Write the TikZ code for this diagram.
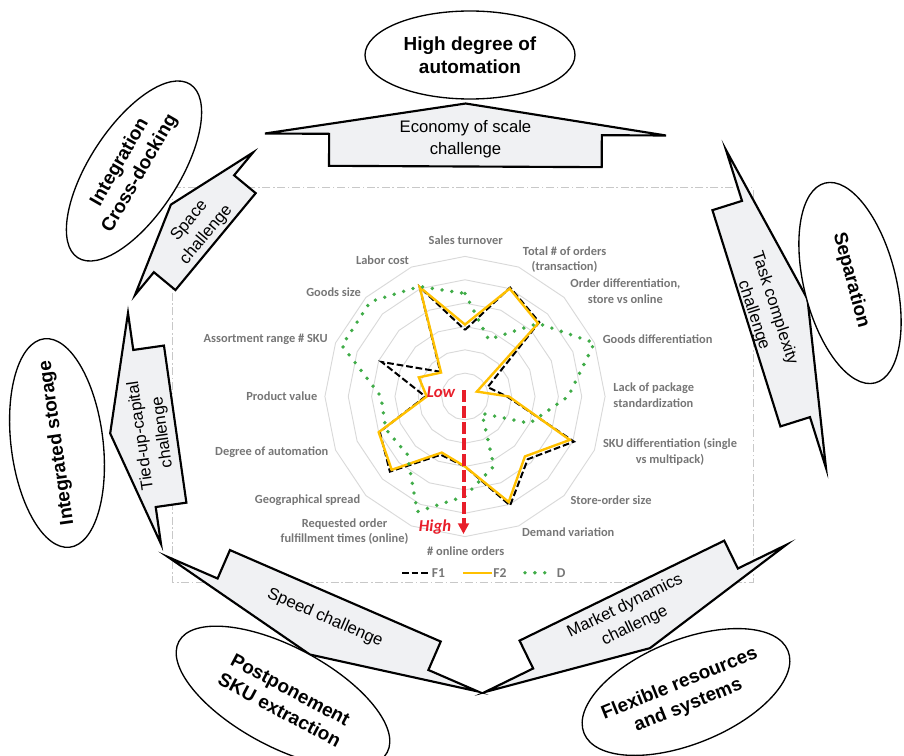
\documentclass[tikz,border=0pt]{standalone}
\usepackage{fontspec}
\setmainfont{Liberation Sans}
\newfontfamily\chartfont{Carlito}
\usetikzlibrary{calc,shapes.geometric,arrows.meta}

\definecolor{labelgray}{RGB}{118,118,118}
\definecolor{ringgray}{RGB}{217,217,217}
\definecolor{framegray}{RGB}{200,200,200}
\definecolor{seriesgold}{RGB}{255,192,0}
\definecolor{seriesgreen}{RGB}{64,172,72}
\definecolor{scalered}{RGB}{232,30,42}
\definecolor{challengefill}{RGB}{240,241,243}

% Flat block arrow: base from #2 to #3, head apex #4 to the left of the
% base direction, body of thickness #5 on the other side.
\newcommand\challengeshape[5]{%
  \coordinate (#1-s) at #2;
  \coordinate (#1-e) at #3;
  \coordinate (#1-m) at ($(#1-s)!0.5!(#1-e)$);
  \coordinate (#1-n1) at ($(#1-s)!0.16!(#1-e)$);
  \coordinate (#1-n2) at ($(#1-s)!0.84!(#1-e)$);
  \coordinate (#1-a) at ($(#1-m)!#4!90:(#1-e)$);
  \coordinate (#1-b1) at ($(#1-n1)!#5!-90:(#1-e)$);
  \coordinate (#1-b2) at ($(#1-n2)!#5!90:(#1-s)$);
  \draw[challengebox] (#1-s) -- (#1-a) -- (#1-e) -- (#1-n2) -- (#1-b2)
    -- (#1-b1) -- (#1-n1) -- cycle;
}

% Radar series: 16 values on axes 22.5 degrees apart, clockwise from the top
\newcommand\radarseries[3]{%
  \foreach \v [count=\k from 0] in {#3}
    \coordinate (#1\k) at ({465+23.35*\v*sin(22.5*\k)},{396.5-23.35*\v*cos(22.5*\k)});
  \draw[#2] (#10) \foreach \k in {1,...,15}{ -- (#1\k)} -- cycle;
}

\begin{document}
\begin{tikzpicture}[x=0.75pt,y=-0.75pt,
  challengebox/.style={draw=black, line width=1.6pt, fill=challengefill,
    line join=miter, miter limit=12},
  challengetext/.style={font=\fontsize{12.5}{16.5}\selectfont, align=center, inner sep=0pt},
  goal/.style={draw=black, line width=1pt, fill=white, ellipse, inner sep=0pt},
  goaltext/.style={font=\bfseries\fontsize{14.2}{17.3}\selectfont, align=center, inner sep=0pt},
  ring/.style={draw=ringgray, line width=0.7pt},
  axislabel/.style={font=\chartfont\bfseries\fontsize{9.3}{11.8}\selectfont,
    text=labelgray, align=center, inner sep=0pt},
  legendlabel/.style={font=\chartfont\bfseries\fontsize{10.2}{12}\selectfont,
    text=labelgray, inner sep=0pt, anchor=west},
  serF1/.style={draw=black, line width=1.5pt, dash pattern=on 5pt off 2.2pt},
  serF2/.style={draw=seriesgold, line width=1.8pt, line join=miter},
  serD/.style={draw=seriesgreen, line width=2.9pt, line cap=round,
    dash pattern=on 0pt off 7.4pt},
  scaletext/.style={font=\chartfont\bfseries\itshape\fontsize{12.5}{14}\selectfont,
    text=scalered, inner sep=0pt},
  scalearrow/.style={draw=scalered, line width=3pt, dash pattern=on 9pt off 3pt,
    -{Triangle[length=8pt,width=8pt]}},
  chartframe/.style={draw=framegray, line width=0.75pt,
    dash pattern=on 6pt off 2pt on 1.2pt off 2pt}
]
\useasboundingbox (0,0) rectangle (904,756);

% chart area
\draw[chartframe] (172,188) rectangle (753,582);

% radar grid
\foreach \i in {1,...,6}
  \draw[ring] plot[samples at={0,22.5,...,337.5}]
    ({465+23.35*\i*sin(\x)},{396.5-23.35*\i*cos(\x)}) -- cycle;

% data series
\radarseries{fa}{serF1}{2.85,5.05,4.5,1.05,1.8,5.05,3.8,5.05,3.0,2.7,4.55,3.95,1.7,3.86,1.5,5.07}
\radarseries{fb}{serF2}{3.08,5.0,4.43,0.55,1.88,4.86,3.63,4.89,3.0,2.6,4.44,4.0,1.64,2.14,1.45,5.07}
\radarseries{dd}{serD}{4.41,2.64,4.43,6.0,4.42,3.0,1.03,3.23,4.27,5.34,3.5,3.67,3.6,5.7,5.74,5.1}

% axis labels
\node[axislabel] (ax0) at (465.7,240) {Sales turnover};
\node[axislabel] (ax1) at (564.6,259.5) {Total \# of orders\\(transaction)};
\node[axislabel] (ax2) at (625.4,291.5) {Order differentiation,\\store vs online};
\node[axislabel, anchor=west] (ax3) at (602.5,339.3) {Goods differentiation};
\node[axislabel, anchor=west, align=left] (ax4) at (613.2,395.5) {Lack of package\\standardization};
\node[axislabel] (ax5) at (670,452) {SKU differentiation (single\\vs multipack)};
\node[axislabel] (ax6) at (611,500) {Store-order size};
\node[axislabel] (ax7) at (568.2,532.3) {Demand variation};
\node[axislabel] (ax8) at (465.7,551) {\# online orders};
\node[axislabel] (ax9) at (344.5,531.5) {Requested order\\fulfillment times (online)};
\node[axislabel] (ax10) at (307.5,500) {Geographical spread};
\node[axislabel] (ax11) at (271.8,452) {Degree of automation};
\node[axislabel] (ax12) at (281.8,396) {Product value};
\node[axislabel] (ax13) at (265.7,339.3) {Assortment range \# SKU};
\node[axislabel] (ax14) at (333.6,292) {Goods size};
\node[axislabel] (ax15) at (382.5,260) {Labor cost};

% scale direction
\coordinate (lowpt) at (463.5,390);
\coordinate (highpt) at (463.5,534);
\draw[scalearrow] (lowpt) -- (highpt);
\node[scaletext] (lowtxt) at (441,392.5) {Low};
\node[scaletext] (hightxt) at (435,527) {High};

% legend
\coordinate (lgFa1) at (402,572.7); \coordinate (lgFa2) at (430,572.7);
\coordinate (lgFb1) at (463,572.7); \coordinate (lgFb2) at (491.5,572.7);
\coordinate (lgD1) at (525,572.7);  \coordinate (lgD2) at (545,572.7);
\draw[serF1] (lgFa1) -- (lgFa2);
\draw[serF2] (lgFb1) -- (lgFb2);
\draw[serD] (lgD1) -- (lgD2);
\node[legendlabel] (lgFatxt) at (431.5,572.7) {F1};
\node[legendlabel] (lgFbtxt) at (493,572.7) {F2};
\node[legendlabel] (lgDtxt) at (556.5,572.7) {D};

% challenge arrows
\challengeshape{econ}{(265,133.5)}{(666,135.5)}{23.25pt}{24pt}
\challengeshape{task}{(726,150)}{(826,468)}{24.75pt}{23.25pt}
\challengeshape{market}{(786,545)}{(485,692)}{24.75pt}{23.25pt}
\challengeshape{speed}{(478,691.5)}{(168,557)}{24.75pt}{23.25pt}
\challengeshape{capital}{(161,544)}{(128,313)}{26pt}{23.25pt}
\challengeshape{space}{(135,295)}{(253,152.5)}{22.5pt}{21pt}

\node[challengetext] (econtxt) at (465.5,139.5) {Economy of scale\\challenge};
\node[challengetext, rotate=-72] (tasktxt) at (764,312) {Task complexity\\challenge};
\node[challengetext, rotate=26] (markettxt) at (630,616) {Market dynamics\\challenge};
\node[challengetext, rotate=-23.5] (speedtxt) at (325,618) {Speed challenge};
\node[challengetext, rotate=98] (capitaltxt) at (152,434) {Tied-up-capital\\challenge};
\node[challengetext, rotate=50] (spacetxt) at (198,228) {Space\\challenge};

% strategies
\node[goal, minimum width=157.5pt, minimum height=66pt] (autom) at (470,55) {};
\node[goaltext] (automtxt) at (470,55) {High degree of\\automation};
\node[goal, rotate=-76, minimum width=154.5pt, minimum height=69pt] (separ) at (850,283) {};
\node[goaltext, rotate=-75] (separtxt) at (851,280) {Separation};
\node[goal, rotate=22, minimum width=165pt, minimum height=78pt] (flex) at (686,692) {};
\node[goaltext, rotate=22] (flextxt) at (684,695) {Flexible resources\\and systems};
\node[goal, rotate=-28, minimum width=177pt, minimum height=75pt] (postp) at (283,697) {};
\node[goaltext, rotate=-28] (postptxt) at (285,700) {Postponement\\SKU extraction};
\node[goal, rotate=97, minimum width=157.5pt, minimum height=69pt] (integst) at (57,443) {};
\node[goaltext, rotate=98] (integsttxt) at (57,443) {Integrated storage};
\node[goal, rotate=57, minimum width=155pt, minimum height=67pt] (integcd) at (134,171) {};
\node[goaltext, rotate=60] (integcdtxt) at (130,168) {Integration\\Cross-docking};
\end{tikzpicture}
\end{document}
